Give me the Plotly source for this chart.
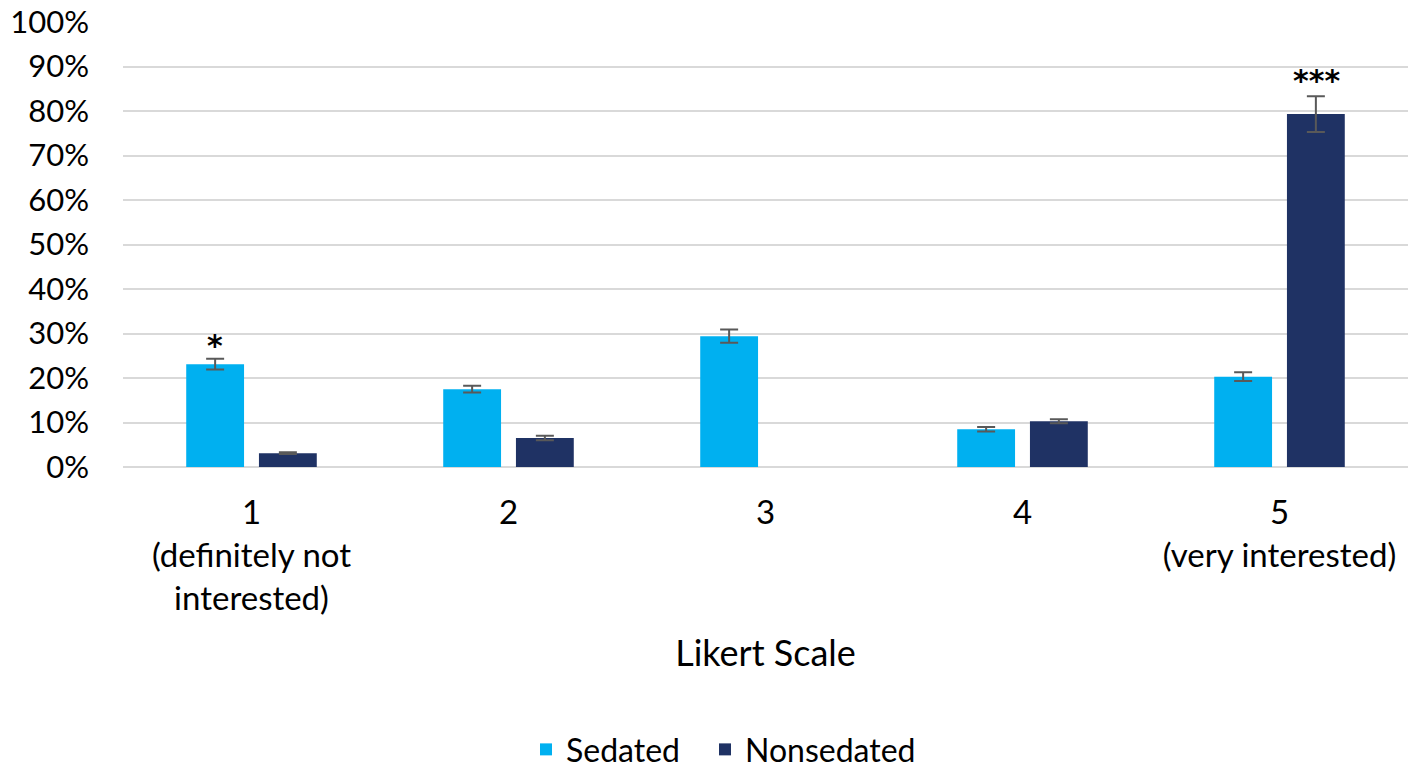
import plotly.graph_objects as go

categories = ["1<br>(definitely not<br>interested)", "2", "3", "4", "5<br>(very interested)"]
sedated = [0.231, 0.175, 0.294, 0.085, 0.203]
sedated_err = [0.012, 0.0075, 0.015, 0.005, 0.010]
# category 3 has no Nonsedated bar (0%) in the reference
nonsedated = [0.031, 0.065, None, 0.103, 0.793]
nonsedated_err = [0.002, 0.005, None, 0.0045, 0.040]

sig_labels = [("*", 0, "Sedated", 0.272), ("***", 4, "Nonsedated", 0.868)]

FONT = "Lato, Open Sans, sans-serif"
C_SED = "#00b0f0"
C_NON = "#1f3264"
C_ERR = "#595959"

fig = go.Figure()
fig.add_trace(go.Bar(
    name="Sedated", x=categories, y=sedated, legend="legend",
    marker=dict(color=C_SED, line=dict(color=C_SED, width=0)),
    error_y=dict(type="data", array=sedated_err, visible=True, color=C_ERR, thickness=2, width=9),
))
fig.add_trace(go.Bar(
    name="Nonsedated", x=categories, y=nonsedated, legend="legend2",
    marker=dict(color=C_NON, line=dict(color=C_NON, width=0)),
    error_y=dict(type="data", array=nonsedated_err, visible=True, color=C_ERR, thickness=2, width=9),
))

for text, idx, series, yv in sig_labels:
    shift = -36.5 if series == "Sedated" else 36.5
    fig.add_annotation(x=categories[idx], y=yv, text="<b>" + text + "</b>", showarrow=False,
                       xshift=shift, font=dict(family="DejaVu Sans", size=30, color="#000000"))

legend_common = dict(orientation="h", xanchor="left", y=-0.635, yanchor="middle",
                     font=dict(family=FONT, size=32, color="#000000"), itemwidth=30,
                     bgcolor="rgba(0,0,0,0)")

fig.update_layout(
    width=1408, height=768,
    margin=dict(l=123, r=0, t=22, b=301, autoexpand=False),
    paper_bgcolor="white", plot_bgcolor="white",
    barmode="group", bargap=0.434, bargroupgap=0.205,
    font=dict(family=FONT, size=31, color="#000000"),
    showlegend=True,
    legend=dict(x=0.3136, **legend_common),
    legend2=dict(x=0.4529, **legend_common),
    xaxis=dict(
        showgrid=False, showline=False, zeroline=False, ticks="", automargin=False,
        tickfont=dict(family=FONT, size=33, color="#000000"), ticklabelstandoff=23,
        title=dict(text="Likert Scale", standoff=25, font=dict(family=FONT, size=36, color="#000000")),
    ),
    yaxis=dict(
        range=[0, 1], dtick=0.1, tickformat=".0%", automargin=False,
        showgrid=True, gridcolor="#d9d9d9", gridwidth=1.5,
        zeroline=True, zerolinecolor="#d9d9d9", zerolinewidth=1.5,
        showline=False, ticks="", ticklabelstandoff=33, ticklabeloverflow="allow",
        tickfont=dict(family=FONT, size=31, color="#000000"),
    ),
)

fig.write_html("out.html", config={"displayModeBar": False},
               post_script="document.body.style.margin='0px';")
